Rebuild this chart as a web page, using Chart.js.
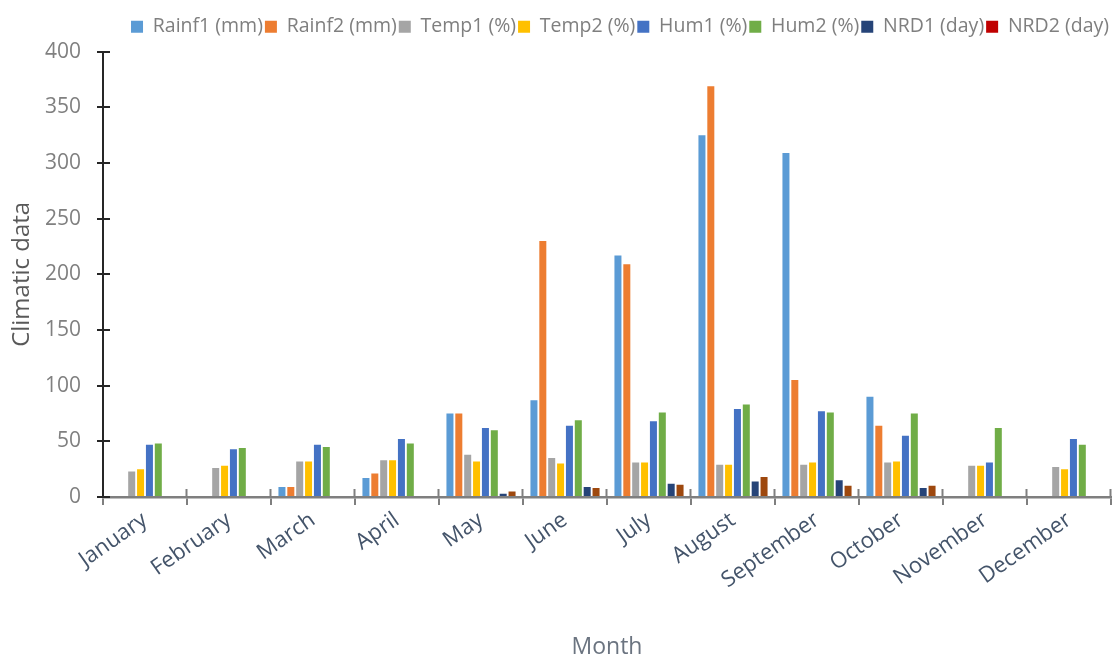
<!DOCTYPE html>
<html>
<head>
<meta charset="utf-8">
<title>Monthly climatic data</title>
<script src="https://cdn.jsdelivr.net/npm/chart.js@4.4.1/dist/chart.umd.min.js"></script>
<style>
  html, body { margin: 0; padding: 0; background: #ffffff; }
  #c { display: block; }
</style>
</head>
<body>
<canvas id="c" width="1112" height="661"></canvas>
<script>
// Monthly climate records: rainfall (mm), temperature and humidity (%), number of rainy days
const months = ['January', 'February', 'March', 'April', 'May', 'June',
                'July', 'August', 'September', 'October', 'November', 'December'];
const rainf1 = [0, 0, 9, 17, 75, 87, 217, 325, 309, 90, 0, 0];
const rainf2 = [0, 0, 9, 21, 75, 230, 209, 369, 105, 64, 0, 0];
const temp1  = [23, 26, 32, 33, 38, 35, 31, 29, 29, 31, 28, 27];
const temp2  = [25, 28, 32, 33, 32, 30, 31, 29, 31, 32, 28, 25];
const hum1   = [47, 43, 47, 52, 62, 64, 68, 79, 77, 55, 31, 52];
const hum2   = [48, 44, 45, 48, 60, 69, 76, 83, 76, 75, 62, 47];
const nrd1   = [0, 0, 0, 0, 3, 9, 12, 14, 15, 8, 0, 0];
const nrd2   = [0, 0, 0, 0, 5, 8, 11, 18, 10, 10, 0, 0];
const yTicks = [0, 50, 100, 150, 200, 250, 300, 350, 400];

const FONT = "'Open Sans', 'DejaVu Sans', sans-serif";

function series(label, data, color, legendColor) {
  return { label, data, backgroundColor: color, borderWidth: 0,
           legendColor: legendColor || color };
}

// Tick marks that cross the axis lines (the library draws only the outer half)
const crossTicks = {
  id: 'crossTicks',
  afterDraw(chart) {
    const ctx = chart.ctx;
    const x = chart.scales.x, y = chart.scales.y;
    ctx.save();
    ctx.lineCap = 'butt';
    // inner half of the value-axis ticks
    ctx.strokeStyle = '#262626';
    ctx.lineWidth = 2;
    y.ticks.forEach((t, i) => {
      const py = Math.round(y.getPixelForTick(i));
      ctx.beginPath();
      ctx.moveTo(y.right, py);
      ctx.lineTo(y.right + 7, py);
      ctx.stroke();
    });
    // inner half of the category-boundary ticks
    ctx.strokeStyle = '#7f7f7f';
    const n = months.length;
    const step = (x.right - x.left) / n;
    for (let i = 1; i <= n; i++) {
      const px = Math.round(x.left + i * step) - 0.5;
      ctx.beginPath();
      ctx.moveTo(px, x.top);
      ctx.lineTo(px, x.top - 8);
      ctx.stroke();
    }
    ctx.restore();
  }
};

new Chart(document.getElementById('c'), {
  type: 'bar',
  data: {
    labels: months,
    datasets: [
      series('Rainf1 (mm)', rainf1, '#5b9bd5'),
      series('Rainf2 (mm)', rainf2, '#ed7d31'),
      series('Temp1 (%)',   temp1,  '#a5a5a5'),
      series('Temp2 (%)',   temp2,  '#ffc000'),
      series('Hum1 (%)',    hum1,   '#4472c4'),
      series('Hum2 (%)',    hum2,   '#70ad47'),
      series('NRD1 (day)',  nrd1,   '#264478'),
      series('NRD2 (day)',  nrd2,   '#9e480e', '#c00000')
    ]
  },
  options: {
    responsive: false,
    animation: false,
    layout: { padding: { top: 15, right: 1, left: 0, bottom: 0 } },
    datasets: { bar: { categoryPercentage: 0.845, barPercentage: 0.79 } },
    plugins: {
      tooltip: { enabled: false },
      // empty spacer line between the legend and the plot
      subtitle: { display: true, text: ' ', font: { size: 1 }, padding: { top: 0, bottom: 4 } },
      legend: {
        position: 'top',
        align: 'end',
        weight: 3000,
        labels: {
          font: { family: FONT, size: 19.5 },
          color: '#7f7f7f',
          boxWidth: 12,
          boxHeight: 12,
          padding: 2,
          generateLabels(chart) {
            return chart.data.datasets.map((ds, i) => ({
              text: ds.label,
              fillStyle: ds.legendColor,
              strokeStyle: ds.legendColor,
              lineWidth: 0,
              hidden: false,
              datasetIndex: i,
              fontColor: '#7f7f7f'
            }));
          }
        }
      }
    },
    scales: {
      x: {
        afterFit(scale) { scale.height = 164; },
        border: { display: true, color: '#7f7f7f', width: 2.5 },
        grid: { display: true, offset: true, drawOnChartArea: false, drawTicks: true,
                tickLength: 8, color: '#7f7f7f', lineWidth: 2 },
        ticks: { font: { family: FONT, size: 22 }, color: '#44546a',
                 minRotation: 35, maxRotation: 35, autoSkip: false, padding: 2 },
        title: { display: true, text: 'Month', color: '#6b7480',
                 font: { family: FONT, size: 23 }, padding: { top: 0, bottom: 0 } }
      },
      y: {
        afterFit(scale) { scale.width = 103; },
        min: 0,
        max: 400,
        afterBuildTicks(scale) { scale.ticks = yTicks.map(v => ({ value: v })); },
        border: { display: true, color: '#262626', width: 2 },
        grid: { display: true, drawOnChartArea: false, drawTicks: true,
                tickLength: 6, color: '#262626', lineWidth: 2 },
        ticks: { font: { family: FONT, size: 21 }, color: '#808080', padding: 16 },
        title: { display: true, text: 'Climatic data', color: '#595959',
                 font: { family: FONT, size: 24 }, padding: { top: 8, bottom: 0 } }
      }
    }
  },
  plugins: [crossTicks]
});
</script>
</body>
</html>
